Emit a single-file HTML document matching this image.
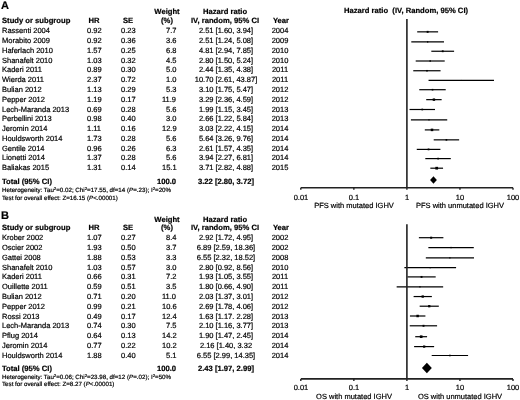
<!DOCTYPE html>
<html><head><meta charset="utf-8"><style>
html,body{margin:0;padding:0;background:#fff;}
body{width:520px;height:400px;position:relative;overflow:hidden;font-family:"Liberation Sans",sans-serif;color:#000;}
.t{position:absolute;white-space:nowrap;will-change:transform;-webkit-text-stroke:0.2px #000;text-rendering:geometricPrecision;}
sup{font-size:70%;line-height:0;vertical-align:0.45em;}
svg{position:absolute;left:0;top:0;}
</style></head><body>
<svg width="520" height="400" viewBox="0 0 520 400">
<line x1="417.20" y1="31.85" x2="438.10" y2="31.85" stroke="#000" stroke-width="1.2"/>
<rect x="426.67" y="30.88" width="1.94" height="1.94" fill="#000"/>
<line x1="411.29" y1="41.90" x2="443.99" y2="41.90" stroke="#000" stroke-width="1.2"/>
<rect x="426.98" y="41.24" width="1.33" height="1.33" fill="#000"/>
<line x1="431.31" y1="51.25" x2="454.09" y2="51.25" stroke="#000" stroke-width="1.2"/>
<rect x="441.81" y="50.34" width="1.83" height="1.83" fill="#000"/>
<line x1="415.70" y1="61.00" x2="444.71" y2="61.00" stroke="#000" stroke-width="1.2"/>
<rect x="429.44" y="60.26" width="1.48" height="1.48" fill="#000"/>
<line x1="413.26" y1="70.75" x2="440.55" y2="70.75" stroke="#000" stroke-width="1.2"/>
<rect x="426.20" y="69.97" width="1.57" height="1.57" fill="#000"/>
<line x1="428.55" y1="80.45" x2="493.99" y2="80.45" stroke="#000" stroke-width="1.2"/>
<rect x="460.77" y="79.95" width="1.00" height="1.00" fill="#000"/>
<line x1="419.28" y1="89.70" x2="445.71" y2="89.70" stroke="#000" stroke-width="1.2"/>
<rect x="431.73" y="88.89" width="1.61" height="1.61" fill="#000"/>
<line x1="426.21" y1="99.65" x2="441.64" y2="99.65" stroke="#000" stroke-width="1.2"/>
<rect x="432.71" y="98.44" width="2.41" height="2.41" fill="#000"/>
<line x1="409.54" y1="109.50" x2="435.02" y2="109.50" stroke="#000" stroke-width="1.2"/>
<rect x="421.43" y="108.67" width="1.66" height="1.66" fill="#000"/>
<line x1="410.91" y1="119.85" x2="447.23" y2="119.85" stroke="#000" stroke-width="1.2"/>
<rect x="428.38" y="119.24" width="1.21" height="1.21" fill="#000"/>
<line x1="424.80" y1="129.90" x2="439.30" y2="129.90" stroke="#000" stroke-width="1.2"/>
<rect x="430.75" y="128.64" width="2.51" height="2.51" fill="#000"/>
<line x1="433.71" y1="139.85" x2="459.14" y2="139.85" stroke="#000" stroke-width="1.2"/>
<rect x="445.59" y="139.02" width="1.66" height="1.66" fill="#000"/>
<line x1="416.76" y1="149.40" x2="440.40" y2="149.40" stroke="#000" stroke-width="1.2"/>
<rect x="427.67" y="148.52" width="1.76" height="1.76" fill="#000"/>
<line x1="425.31" y1="158.60" x2="450.79" y2="158.60" stroke="#000" stroke-width="1.2"/>
<rect x="437.27" y="157.77" width="1.66" height="1.66" fill="#000"/>
<line x1="430.34" y1="168.20" x2="443.06" y2="168.20" stroke="#000" stroke-width="1.2"/>
<rect x="435.34" y="166.84" width="2.72" height="2.72" fill="#000"/>
<line x1="406.9" y1="19.0" x2="406.9" y2="187.75" stroke="#222" stroke-width="1.6"/>
<line x1="300.80" y1="187.75" x2="513.00" y2="187.75" stroke="#222" stroke-width="1.6"/>
<line x1="300.80" y1="187.75" x2="300.80" y2="189.75" stroke="#222" stroke-width="1.4"/>
<line x1="353.85" y1="187.75" x2="353.85" y2="189.75" stroke="#222" stroke-width="1.4"/>
<line x1="406.90" y1="187.75" x2="406.90" y2="189.75" stroke="#222" stroke-width="1.4"/>
<line x1="459.95" y1="187.75" x2="459.95" y2="189.75" stroke="#222" stroke-width="1.4"/>
<line x1="513.00" y1="187.75" x2="513.00" y2="189.75" stroke="#222" stroke-width="1.4"/>
<polygon points="430.08,180.00 433.47,176.31 436.87,180.00 433.47,183.69" fill="#000"/>
<line x1="418.88" y1="237.70" x2="443.39" y2="237.70" stroke="#000" stroke-width="1.2"/>
<rect x="430.14" y="236.69" width="2.03" height="2.03" fill="#000"/>
<line x1="428.37" y1="247.55" x2="473.79" y2="247.55" stroke="#000" stroke-width="1.2"/>
<rect x="450.39" y="246.88" width="1.35" height="1.35" fill="#000"/>
<line x1="425.82" y1="257.85" x2="473.99" y2="257.85" stroke="#000" stroke-width="1.2"/>
<rect x="449.25" y="257.21" width="1.27" height="1.27" fill="#000"/>
<line x1="404.37" y1="267.70" x2="456.09" y2="267.70" stroke="#000" stroke-width="1.2"/>
<rect x="429.57" y="267.09" width="1.21" height="1.21" fill="#000"/>
<line x1="407.43" y1="276.90" x2="435.68" y2="276.90" stroke="#000" stroke-width="1.2"/>
<rect x="420.61" y="275.96" width="1.88" height="1.88" fill="#000"/>
<line x1="396.66" y1="286.80" x2="443.16" y2="286.80" stroke="#000" stroke-width="1.2"/>
<rect x="419.28" y="286.15" width="1.31" height="1.31" fill="#000"/>
<line x1="413.60" y1="296.55" x2="431.86" y2="296.55" stroke="#000" stroke-width="1.2"/>
<rect x="421.56" y="295.39" width="2.32" height="2.32" fill="#000"/>
<line x1="419.67" y1="306.20" x2="438.80" y2="306.20" stroke="#000" stroke-width="1.2"/>
<rect x="428.11" y="305.06" width="2.28" height="2.28" fill="#000"/>
<line x1="409.94" y1="316.00" x2="425.41" y2="316.00" stroke="#000" stroke-width="1.2"/>
<rect x="416.40" y="314.77" width="2.46" height="2.46" fill="#000"/>
<line x1="409.74" y1="325.80" x2="437.08" y2="325.80" stroke="#000" stroke-width="1.2"/>
<rect x="422.55" y="324.84" width="1.92" height="1.92" fill="#000"/>
<line x1="415.23" y1="336.70" x2="427.08" y2="336.70" stroke="#000" stroke-width="1.2"/>
<rect x="419.87" y="335.38" width="2.64" height="2.64" fill="#000"/>
<line x1="414.10" y1="346.60" x2="434.13" y2="346.60" stroke="#000" stroke-width="1.2"/>
<rect x="423.04" y="345.48" width="2.24" height="2.24" fill="#000"/>
<line x1="431.70" y1="355.50" x2="468.08" y2="355.50" stroke="#000" stroke-width="1.2"/>
<rect x="449.10" y="354.71" width="1.58" height="1.58" fill="#000"/>
<line x1="406.9" y1="224.3" x2="406.9" y2="378.9" stroke="#222" stroke-width="1.6"/>
<line x1="300.80" y1="378.9" x2="513.00" y2="378.9" stroke="#222" stroke-width="1.6"/>
<line x1="300.80" y1="378.9" x2="300.80" y2="380.9" stroke="#222" stroke-width="1.4"/>
<line x1="353.85" y1="378.9" x2="353.85" y2="380.9" stroke="#222" stroke-width="1.4"/>
<line x1="406.90" y1="378.9" x2="406.90" y2="380.9" stroke="#222" stroke-width="1.4"/>
<line x1="459.95" y1="378.9" x2="459.95" y2="380.9" stroke="#222" stroke-width="1.4"/>
<line x1="513.00" y1="378.9" x2="513.00" y2="380.9" stroke="#222" stroke-width="1.4"/>
<polygon points="421.92,367.90 426.86,362.66 431.80,367.90 426.86,373.14" fill="#000"/>
</svg>
<div class="t" style="top:1px;font-size:11px;line-height:11px;font-weight:bold;left:0.80px;">A</div>
<div class="t" style="top:8px;font-size:7.65px;line-height:7.65px;font-weight:bold;left:16.60px;width:300px;text-align:center;">Weight</div>
<div class="t" style="top:8px;font-size:7.65px;line-height:7.65px;font-weight:bold;left:75.40px;width:300px;text-align:center;">Hazard ratio</div>
<div class="t" style="top:17px;font-size:7.65px;line-height:7.65px;font-weight:bold;left:1.50px;">Study or subgroup</div>
<div class="t" style="top:17px;font-size:7.65px;line-height:7.65px;font-weight:bold;left:-55.80px;width:300px;text-align:center;">HR</div>
<div class="t" style="top:17px;font-size:7.65px;line-height:7.65px;font-weight:bold;left:-21.70px;width:300px;text-align:center;">SE</div>
<div class="t" style="top:17px;font-size:7.65px;line-height:7.65px;font-weight:bold;left:16.90px;width:300px;text-align:center;">(%)</div>
<div class="t" style="top:17px;font-size:7.65px;line-height:7.65px;font-weight:bold;left:75.40px;width:300px;text-align:center;">IV, random, 95% CI</div>
<div class="t" style="top:17px;font-size:7.65px;line-height:7.65px;font-weight:bold;left:130.80px;width:300px;text-align:center;">Year</div>
<div class="t" style="top:27px;font-size:7.5px;line-height:7.5px;left:1.50px;">Rassenti 2004</div>
<div class="t" style="top:27px;font-size:7.5px;line-height:7.5px;right:418.60px;text-align:right;">0.92</div>
<div class="t" style="top:27px;font-size:7.5px;line-height:7.5px;right:384.00px;text-align:right;">0.23</div>
<div class="t" style="top:27px;font-size:7.5px;line-height:7.5px;right:343.80px;text-align:right;">7.7</div>
<div class="t" style="top:27px;font-size:7.5px;line-height:7.5px;left:75.50px;width:300px;text-align:center;">2.51 [1.60, 3.94]</div>
<div class="t" style="top:27px;font-size:7.5px;line-height:7.5px;left:129.60px;width:300px;text-align:center;">2004</div>
<div class="t" style="top:37px;font-size:7.5px;line-height:7.5px;left:1.50px;">Morabito 2009</div>
<div class="t" style="top:37px;font-size:7.5px;line-height:7.5px;right:418.60px;text-align:right;">0.92</div>
<div class="t" style="top:37px;font-size:7.5px;line-height:7.5px;right:384.00px;text-align:right;">0.36</div>
<div class="t" style="top:37px;font-size:7.5px;line-height:7.5px;right:343.80px;text-align:right;">3.6</div>
<div class="t" style="top:37px;font-size:7.5px;line-height:7.5px;left:75.50px;width:300px;text-align:center;">2.51 [1.24, 5.08]</div>
<div class="t" style="top:37px;font-size:7.5px;line-height:7.5px;left:129.60px;width:300px;text-align:center;">2009</div>
<div class="t" style="top:47px;font-size:7.5px;line-height:7.5px;left:1.50px;">Haferlach 2010</div>
<div class="t" style="top:47px;font-size:7.5px;line-height:7.5px;right:418.60px;text-align:right;">1.57</div>
<div class="t" style="top:47px;font-size:7.5px;line-height:7.5px;right:384.00px;text-align:right;">0.25</div>
<div class="t" style="top:47px;font-size:7.5px;line-height:7.5px;right:343.80px;text-align:right;">6.8</div>
<div class="t" style="top:47px;font-size:7.5px;line-height:7.5px;left:75.50px;width:300px;text-align:center;">4.81 [2.94, 7.85]</div>
<div class="t" style="top:47px;font-size:7.5px;line-height:7.5px;left:129.60px;width:300px;text-align:center;">2010</div>
<div class="t" style="top:57px;font-size:7.5px;line-height:7.5px;left:1.50px;">Shanafelt 2010</div>
<div class="t" style="top:57px;font-size:7.5px;line-height:7.5px;right:418.60px;text-align:right;">1.03</div>
<div class="t" style="top:57px;font-size:7.5px;line-height:7.5px;right:384.00px;text-align:right;">0.32</div>
<div class="t" style="top:57px;font-size:7.5px;line-height:7.5px;right:343.80px;text-align:right;">4.5</div>
<div class="t" style="top:57px;font-size:7.5px;line-height:7.5px;left:75.50px;width:300px;text-align:center;">2.80 [1.50, 5.24]</div>
<div class="t" style="top:57px;font-size:7.5px;line-height:7.5px;left:129.60px;width:300px;text-align:center;">2010</div>
<div class="t" style="top:66px;font-size:7.5px;line-height:7.5px;left:1.50px;">Kaderi 2011</div>
<div class="t" style="top:66px;font-size:7.5px;line-height:7.5px;right:418.60px;text-align:right;">0.89</div>
<div class="t" style="top:66px;font-size:7.5px;line-height:7.5px;right:384.00px;text-align:right;">0.30</div>
<div class="t" style="top:66px;font-size:7.5px;line-height:7.5px;right:343.80px;text-align:right;">5.0</div>
<div class="t" style="top:66px;font-size:7.5px;line-height:7.5px;left:75.50px;width:300px;text-align:center;">2.44 [1.35, 4.38]</div>
<div class="t" style="top:66px;font-size:7.5px;line-height:7.5px;left:129.60px;width:300px;text-align:center;">2011</div>
<div class="t" style="top:76px;font-size:7.5px;line-height:7.5px;left:1.50px;">Wierda 2011</div>
<div class="t" style="top:76px;font-size:7.5px;line-height:7.5px;right:418.60px;text-align:right;">2.37</div>
<div class="t" style="top:76px;font-size:7.5px;line-height:7.5px;right:384.00px;text-align:right;">0.72</div>
<div class="t" style="top:76px;font-size:7.5px;line-height:7.5px;right:343.80px;text-align:right;">1.0</div>
<div class="t" style="top:76px;font-size:7.5px;line-height:7.5px;left:75.50px;width:300px;text-align:center;">10.70 [2.61, 43.87]</div>
<div class="t" style="top:76px;font-size:7.5px;line-height:7.5px;left:129.60px;width:300px;text-align:center;">2011</div>
<div class="t" style="top:86px;font-size:7.5px;line-height:7.5px;left:1.50px;">Bulian 2012</div>
<div class="t" style="top:86px;font-size:7.5px;line-height:7.5px;right:418.60px;text-align:right;">1.13</div>
<div class="t" style="top:86px;font-size:7.5px;line-height:7.5px;right:384.00px;text-align:right;">0.29</div>
<div class="t" style="top:86px;font-size:7.5px;line-height:7.5px;right:343.80px;text-align:right;">5.3</div>
<div class="t" style="top:86px;font-size:7.5px;line-height:7.5px;left:75.50px;width:300px;text-align:center;">3.10 [1.75, 5.47]</div>
<div class="t" style="top:86px;font-size:7.5px;line-height:7.5px;left:129.60px;width:300px;text-align:center;">2012</div>
<div class="t" style="top:96px;font-size:7.5px;line-height:7.5px;left:1.50px;">Pepper 2012</div>
<div class="t" style="top:96px;font-size:7.5px;line-height:7.5px;right:418.60px;text-align:right;">1.19</div>
<div class="t" style="top:96px;font-size:7.5px;line-height:7.5px;right:384.00px;text-align:right;">0.17</div>
<div class="t" style="top:96px;font-size:7.5px;line-height:7.5px;right:343.80px;text-align:right;">11.9</div>
<div class="t" style="top:96px;font-size:7.5px;line-height:7.5px;left:75.50px;width:300px;text-align:center;">3.29 [2.36, 4.59]</div>
<div class="t" style="top:96px;font-size:7.5px;line-height:7.5px;left:129.60px;width:300px;text-align:center;">2012</div>
<div class="t" style="top:106px;font-size:7.5px;line-height:7.5px;left:1.50px;">Lech-Maranda 2013</div>
<div class="t" style="top:106px;font-size:7.5px;line-height:7.5px;right:418.60px;text-align:right;">0.69</div>
<div class="t" style="top:106px;font-size:7.5px;line-height:7.5px;right:384.00px;text-align:right;">0.28</div>
<div class="t" style="top:106px;font-size:7.5px;line-height:7.5px;right:343.80px;text-align:right;">5.6</div>
<div class="t" style="top:106px;font-size:7.5px;line-height:7.5px;left:75.50px;width:300px;text-align:center;">1.99 [1.15, 3.45]</div>
<div class="t" style="top:106px;font-size:7.5px;line-height:7.5px;left:129.60px;width:300px;text-align:center;">2013</div>
<div class="t" style="top:115px;font-size:7.5px;line-height:7.5px;left:1.50px;">Perbellini 2013</div>
<div class="t" style="top:115px;font-size:7.5px;line-height:7.5px;right:418.60px;text-align:right;">0.98</div>
<div class="t" style="top:115px;font-size:7.5px;line-height:7.5px;right:384.00px;text-align:right;">0.40</div>
<div class="t" style="top:115px;font-size:7.5px;line-height:7.5px;right:343.80px;text-align:right;">3.0</div>
<div class="t" style="top:115px;font-size:7.5px;line-height:7.5px;left:75.50px;width:300px;text-align:center;">2.66 [1.22, 5.84]</div>
<div class="t" style="top:115px;font-size:7.5px;line-height:7.5px;left:129.60px;width:300px;text-align:center;">2013</div>
<div class="t" style="top:125px;font-size:7.5px;line-height:7.5px;left:1.50px;">Jeromin 2014</div>
<div class="t" style="top:125px;font-size:7.5px;line-height:7.5px;right:418.60px;text-align:right;">1.11</div>
<div class="t" style="top:125px;font-size:7.5px;line-height:7.5px;right:384.00px;text-align:right;">0.16</div>
<div class="t" style="top:125px;font-size:7.5px;line-height:7.5px;right:343.80px;text-align:right;">12.9</div>
<div class="t" style="top:125px;font-size:7.5px;line-height:7.5px;left:75.50px;width:300px;text-align:center;">3.03 [2.22, 4.15]</div>
<div class="t" style="top:125px;font-size:7.5px;line-height:7.5px;left:129.60px;width:300px;text-align:center;">2014</div>
<div class="t" style="top:135px;font-size:7.5px;line-height:7.5px;left:1.50px;">Houldsworth 2014</div>
<div class="t" style="top:135px;font-size:7.5px;line-height:7.5px;right:418.60px;text-align:right;">1.73</div>
<div class="t" style="top:135px;font-size:7.5px;line-height:7.5px;right:384.00px;text-align:right;">0.28</div>
<div class="t" style="top:135px;font-size:7.5px;line-height:7.5px;right:343.80px;text-align:right;">5.6</div>
<div class="t" style="top:135px;font-size:7.5px;line-height:7.5px;left:75.50px;width:300px;text-align:center;">5.64 [3.26, 9.76]</div>
<div class="t" style="top:135px;font-size:7.5px;line-height:7.5px;left:129.60px;width:300px;text-align:center;">2014</div>
<div class="t" style="top:145px;font-size:7.5px;line-height:7.5px;left:1.50px;">Gentile 2014</div>
<div class="t" style="top:145px;font-size:7.5px;line-height:7.5px;right:418.60px;text-align:right;">0.96</div>
<div class="t" style="top:145px;font-size:7.5px;line-height:7.5px;right:384.00px;text-align:right;">0.26</div>
<div class="t" style="top:145px;font-size:7.5px;line-height:7.5px;right:343.80px;text-align:right;">6.3</div>
<div class="t" style="top:145px;font-size:7.5px;line-height:7.5px;left:75.50px;width:300px;text-align:center;">2.61 [1.57, 4.35]</div>
<div class="t" style="top:145px;font-size:7.5px;line-height:7.5px;left:129.60px;width:300px;text-align:center;">2014</div>
<div class="t" style="top:154px;font-size:7.5px;line-height:7.5px;left:1.50px;">Lionetti 2014</div>
<div class="t" style="top:154px;font-size:7.5px;line-height:7.5px;right:418.60px;text-align:right;">1.37</div>
<div class="t" style="top:154px;font-size:7.5px;line-height:7.5px;right:384.00px;text-align:right;">0.28</div>
<div class="t" style="top:154px;font-size:7.5px;line-height:7.5px;right:343.80px;text-align:right;">5.6</div>
<div class="t" style="top:154px;font-size:7.5px;line-height:7.5px;left:75.50px;width:300px;text-align:center;">3.94 [2.27, 6.81]</div>
<div class="t" style="top:154px;font-size:7.5px;line-height:7.5px;left:129.60px;width:300px;text-align:center;">2014</div>
<div class="t" style="top:164px;font-size:7.5px;line-height:7.5px;left:1.50px;">Baliakas 2015</div>
<div class="t" style="top:164px;font-size:7.5px;line-height:7.5px;right:418.60px;text-align:right;">1.31</div>
<div class="t" style="top:164px;font-size:7.5px;line-height:7.5px;right:384.00px;text-align:right;">0.14</div>
<div class="t" style="top:164px;font-size:7.5px;line-height:7.5px;right:343.80px;text-align:right;">15.1</div>
<div class="t" style="top:164px;font-size:7.5px;line-height:7.5px;left:75.50px;width:300px;text-align:center;">3.71 [2.82, 4.88]</div>
<div class="t" style="top:164px;font-size:7.5px;line-height:7.5px;left:129.60px;width:300px;text-align:center;">2015</div>
<div class="t" style="top:178px;font-size:7.65px;line-height:7.65px;font-weight:bold;left:1.50px;">Total (95% CI)</div>
<div class="t" style="top:178px;font-size:7.65px;line-height:7.65px;font-weight:bold;right:343.80px;text-align:right;">100.0</div>
<div class="t" style="top:178px;font-size:7.65px;line-height:7.65px;font-weight:bold;left:75.50px;width:300px;text-align:center;">3.22 [2.80, 3.72]</div>
<div class="t" style="top:188px;font-size:6.2px;line-height:6.2px;left:1.50px;">Heterogeneity: Tau<sup>2</sup>=0.02; Chi<sup>2</sup>=17.55, df=14 (<i>P</i>=.23); I<sup>2</sup>=20%</div>
<div class="t" style="top:196px;font-size:6.2px;line-height:6.2px;left:1.50px;">Test for overall effect: Z=16.15 (<i>P</i>&lt;.00001)</div>
<div class="t" style="top:7px;font-size:7.65px;line-height:7.65px;font-weight:bold;left:255.90px;width:300px;text-align:center;">Hazard ratio&nbsp; (IV, Random, 95% CI)</div>
<div class="t" style="top:194px;font-size:7.5px;line-height:7.5px;left:150.80px;width:300px;text-align:center;">0.01</div>
<div class="t" style="top:194px;font-size:7.5px;line-height:7.5px;left:203.85px;width:300px;text-align:center;">0.1</div>
<div class="t" style="top:194px;font-size:7.5px;line-height:7.5px;left:256.90px;width:300px;text-align:center;">1</div>
<div class="t" style="top:194px;font-size:7.5px;line-height:7.5px;left:309.95px;width:300px;text-align:center;">10</div>
<div class="t" style="top:194px;font-size:7.5px;line-height:7.5px;left:363.00px;width:300px;text-align:center;">100</div>
<div class="t" style="top:202px;font-size:7.5px;line-height:7.5px;left:204.00px;width:300px;text-align:center;">PFS with mutated IGHV</div>
<div class="t" style="top:202px;font-size:7.5px;line-height:7.5px;left:309.50px;width:300px;text-align:center;">PFS with unmutated IGHV</div>
<div class="t" style="top:211px;font-size:11px;line-height:11px;font-weight:bold;left:0.80px;">B</div>
<div class="t" style="top:216px;font-size:7.65px;line-height:7.65px;font-weight:bold;left:16.60px;width:300px;text-align:center;">Weight</div>
<div class="t" style="top:216px;font-size:7.65px;line-height:7.65px;font-weight:bold;left:75.40px;width:300px;text-align:center;">Hazard ratio</div>
<div class="t" style="top:224px;font-size:7.65px;line-height:7.65px;font-weight:bold;left:1.50px;">Study or subgroup</div>
<div class="t" style="top:224px;font-size:7.65px;line-height:7.65px;font-weight:bold;left:-55.80px;width:300px;text-align:center;">HR</div>
<div class="t" style="top:224px;font-size:7.65px;line-height:7.65px;font-weight:bold;left:-21.70px;width:300px;text-align:center;">SE</div>
<div class="t" style="top:224px;font-size:7.65px;line-height:7.65px;font-weight:bold;left:16.90px;width:300px;text-align:center;">(%)</div>
<div class="t" style="top:224px;font-size:7.65px;line-height:7.65px;font-weight:bold;left:75.40px;width:300px;text-align:center;">IV, random, 95% CI</div>
<div class="t" style="top:224px;font-size:7.65px;line-height:7.65px;font-weight:bold;left:130.80px;width:300px;text-align:center;">Year</div>
<div class="t" style="top:234px;font-size:7.5px;line-height:7.5px;left:1.50px;">Krober 2002</div>
<div class="t" style="top:234px;font-size:7.5px;line-height:7.5px;right:418.60px;text-align:right;">1.07</div>
<div class="t" style="top:234px;font-size:7.5px;line-height:7.5px;right:384.00px;text-align:right;">0.27</div>
<div class="t" style="top:234px;font-size:7.5px;line-height:7.5px;right:343.80px;text-align:right;">8.4</div>
<div class="t" style="top:234px;font-size:7.5px;line-height:7.5px;left:75.50px;width:300px;text-align:center;">2.92 [1.72, 4.95]</div>
<div class="t" style="top:234px;font-size:7.5px;line-height:7.5px;left:129.60px;width:300px;text-align:center;">2002</div>
<div class="t" style="top:244px;font-size:7.5px;line-height:7.5px;left:1.50px;">Oscier 2002</div>
<div class="t" style="top:244px;font-size:7.5px;line-height:7.5px;right:418.60px;text-align:right;">1.93</div>
<div class="t" style="top:244px;font-size:7.5px;line-height:7.5px;right:384.00px;text-align:right;">0.50</div>
<div class="t" style="top:244px;font-size:7.5px;line-height:7.5px;right:343.80px;text-align:right;">3.7</div>
<div class="t" style="top:244px;font-size:7.5px;line-height:7.5px;left:75.50px;width:300px;text-align:center;">6.89 [2.59, 18.36]</div>
<div class="t" style="top:244px;font-size:7.5px;line-height:7.5px;left:129.60px;width:300px;text-align:center;">2002</div>
<div class="t" style="top:254px;font-size:7.5px;line-height:7.5px;left:1.50px;">Gattei 2008</div>
<div class="t" style="top:254px;font-size:7.5px;line-height:7.5px;right:418.60px;text-align:right;">1.88</div>
<div class="t" style="top:254px;font-size:7.5px;line-height:7.5px;right:384.00px;text-align:right;">0.53</div>
<div class="t" style="top:254px;font-size:7.5px;line-height:7.5px;right:343.80px;text-align:right;">3.3</div>
<div class="t" style="top:254px;font-size:7.5px;line-height:7.5px;left:75.50px;width:300px;text-align:center;">6.55 [2.32, 18.52]</div>
<div class="t" style="top:254px;font-size:7.5px;line-height:7.5px;left:129.60px;width:300px;text-align:center;">2008</div>
<div class="t" style="top:264px;font-size:7.5px;line-height:7.5px;left:1.50px;">Shanafelt 2010</div>
<div class="t" style="top:264px;font-size:7.5px;line-height:7.5px;right:418.60px;text-align:right;">1.03</div>
<div class="t" style="top:264px;font-size:7.5px;line-height:7.5px;right:384.00px;text-align:right;">0.57</div>
<div class="t" style="top:264px;font-size:7.5px;line-height:7.5px;right:343.80px;text-align:right;">3.0</div>
<div class="t" style="top:264px;font-size:7.5px;line-height:7.5px;left:75.50px;width:300px;text-align:center;">2.80 [0.92, 8.56]</div>
<div class="t" style="top:264px;font-size:7.5px;line-height:7.5px;left:129.60px;width:300px;text-align:center;">2010</div>
<div class="t" style="top:273px;font-size:7.5px;line-height:7.5px;left:1.50px;">Kaderi 2011</div>
<div class="t" style="top:273px;font-size:7.5px;line-height:7.5px;right:418.60px;text-align:right;">0.66</div>
<div class="t" style="top:273px;font-size:7.5px;line-height:7.5px;right:384.00px;text-align:right;">0.31</div>
<div class="t" style="top:273px;font-size:7.5px;line-height:7.5px;right:343.80px;text-align:right;">7.2</div>
<div class="t" style="top:273px;font-size:7.5px;line-height:7.5px;left:75.50px;width:300px;text-align:center;">1.93 [1.05, 3.55]</div>
<div class="t" style="top:273px;font-size:7.5px;line-height:7.5px;left:129.60px;width:300px;text-align:center;">2011</div>
<div class="t" style="top:283px;font-size:7.5px;line-height:7.5px;left:1.50px;">Ouillette 2011</div>
<div class="t" style="top:283px;font-size:7.5px;line-height:7.5px;right:418.60px;text-align:right;">0.59</div>
<div class="t" style="top:283px;font-size:7.5px;line-height:7.5px;right:384.00px;text-align:right;">0.51</div>
<div class="t" style="top:283px;font-size:7.5px;line-height:7.5px;right:343.80px;text-align:right;">3.5</div>
<div class="t" style="top:283px;font-size:7.5px;line-height:7.5px;left:75.50px;width:300px;text-align:center;">1.80 [0.66, 4.90]</div>
<div class="t" style="top:283px;font-size:7.5px;line-height:7.5px;left:129.60px;width:300px;text-align:center;">2011</div>
<div class="t" style="top:293px;font-size:7.5px;line-height:7.5px;left:1.50px;">Bulian 2012</div>
<div class="t" style="top:293px;font-size:7.5px;line-height:7.5px;right:418.60px;text-align:right;">0.71</div>
<div class="t" style="top:293px;font-size:7.5px;line-height:7.5px;right:384.00px;text-align:right;">0.20</div>
<div class="t" style="top:293px;font-size:7.5px;line-height:7.5px;right:343.80px;text-align:right;">11.0</div>
<div class="t" style="top:293px;font-size:7.5px;line-height:7.5px;left:75.50px;width:300px;text-align:center;">2.03 [1.37, 3.01]</div>
<div class="t" style="top:293px;font-size:7.5px;line-height:7.5px;left:129.60px;width:300px;text-align:center;">2012</div>
<div class="t" style="top:303px;font-size:7.5px;line-height:7.5px;left:1.50px;">Pepper 2012</div>
<div class="t" style="top:303px;font-size:7.5px;line-height:7.5px;right:418.60px;text-align:right;">0.99</div>
<div class="t" style="top:303px;font-size:7.5px;line-height:7.5px;right:384.00px;text-align:right;">0.21</div>
<div class="t" style="top:303px;font-size:7.5px;line-height:7.5px;right:343.80px;text-align:right;">10.6</div>
<div class="t" style="top:303px;font-size:7.5px;line-height:7.5px;left:75.50px;width:300px;text-align:center;">2.69 [1.78, 4.06]</div>
<div class="t" style="top:303px;font-size:7.5px;line-height:7.5px;left:129.60px;width:300px;text-align:center;">2012</div>
<div class="t" style="top:313px;font-size:7.5px;line-height:7.5px;left:1.50px;">Rossi 2013</div>
<div class="t" style="top:313px;font-size:7.5px;line-height:7.5px;right:418.60px;text-align:right;">0.49</div>
<div class="t" style="top:313px;font-size:7.5px;line-height:7.5px;right:384.00px;text-align:right;">0.17</div>
<div class="t" style="top:313px;font-size:7.5px;line-height:7.5px;right:343.80px;text-align:right;">12.4</div>
<div class="t" style="top:313px;font-size:7.5px;line-height:7.5px;left:75.50px;width:300px;text-align:center;">1.63 [1.17. 2.28]</div>
<div class="t" style="top:313px;font-size:7.5px;line-height:7.5px;left:129.60px;width:300px;text-align:center;">2013</div>
<div class="t" style="top:322px;font-size:7.5px;line-height:7.5px;left:1.50px;">Lech-Maranda 2013</div>
<div class="t" style="top:322px;font-size:7.5px;line-height:7.5px;right:418.60px;text-align:right;">0.74</div>
<div class="t" style="top:322px;font-size:7.5px;line-height:7.5px;right:384.00px;text-align:right;">0.30</div>
<div class="t" style="top:322px;font-size:7.5px;line-height:7.5px;right:343.80px;text-align:right;">7.5</div>
<div class="t" style="top:322px;font-size:7.5px;line-height:7.5px;left:75.50px;width:300px;text-align:center;">2.10 [1.16, 3.77]</div>
<div class="t" style="top:322px;font-size:7.5px;line-height:7.5px;left:129.60px;width:300px;text-align:center;">2013</div>
<div class="t" style="top:332px;font-size:7.5px;line-height:7.5px;left:1.50px;">Pflug 2014</div>
<div class="t" style="top:332px;font-size:7.5px;line-height:7.5px;right:418.60px;text-align:right;">0.64</div>
<div class="t" style="top:332px;font-size:7.5px;line-height:7.5px;right:384.00px;text-align:right;">0.13</div>
<div class="t" style="top:332px;font-size:7.5px;line-height:7.5px;right:343.80px;text-align:right;">14.2</div>
<div class="t" style="top:332px;font-size:7.5px;line-height:7.5px;left:75.50px;width:300px;text-align:center;">1.90 [1.47, 2.45]</div>
<div class="t" style="top:332px;font-size:7.5px;line-height:7.5px;left:129.60px;width:300px;text-align:center;">2014</div>
<div class="t" style="top:342px;font-size:7.5px;line-height:7.5px;left:1.50px;">Jeromin 2014</div>
<div class="t" style="top:342px;font-size:7.5px;line-height:7.5px;right:418.60px;text-align:right;">0.77</div>
<div class="t" style="top:342px;font-size:7.5px;line-height:7.5px;right:384.00px;text-align:right;">0.22</div>
<div class="t" style="top:342px;font-size:7.5px;line-height:7.5px;right:343.80px;text-align:right;">10.2</div>
<div class="t" style="top:342px;font-size:7.5px;line-height:7.5px;left:75.50px;width:300px;text-align:center;">2.16 [1.40, 3.32</div>
<div class="t" style="top:342px;font-size:7.5px;line-height:7.5px;left:129.60px;width:300px;text-align:center;">2014</div>
<div class="t" style="top:352px;font-size:7.5px;line-height:7.5px;left:1.50px;">Houldsworth 2014</div>
<div class="t" style="top:352px;font-size:7.5px;line-height:7.5px;right:418.60px;text-align:right;">1.88</div>
<div class="t" style="top:352px;font-size:7.5px;line-height:7.5px;right:384.00px;text-align:right;">0.40</div>
<div class="t" style="top:352px;font-size:7.5px;line-height:7.5px;right:343.80px;text-align:right;">5.1</div>
<div class="t" style="top:352px;font-size:7.5px;line-height:7.5px;left:75.50px;width:300px;text-align:center;">6.55 [2.99, 14.35]</div>
<div class="t" style="top:352px;font-size:7.5px;line-height:7.5px;left:129.60px;width:300px;text-align:center;">2014</div>
<div class="t" style="top:365px;font-size:7.65px;line-height:7.65px;font-weight:bold;left:1.50px;">Total (95% CI)</div>
<div class="t" style="top:365px;font-size:7.65px;line-height:7.65px;font-weight:bold;right:343.80px;text-align:right;">100.0</div>
<div class="t" style="top:365px;font-size:7.65px;line-height:7.65px;font-weight:bold;left:75.50px;width:300px;text-align:center;">2.43 [1.97, 2.99]</div>
<div class="t" style="top:375px;font-size:6.2px;line-height:6.2px;left:1.50px;">Heterogeneity: Tau<sup>2</sup>=0.06; Chi<sup>2</sup>=23.98, df=12 (<i>P</i>=.02); I<sup>2</sup>=50%</div>
<div class="t" style="top:382px;font-size:6.2px;line-height:6.2px;left:1.50px;">Test for overall effect: Z=8.27 (<i>P</i>&lt;.00001)</div>
<div class="t" style="top:384px;font-size:7.5px;line-height:7.5px;left:150.80px;width:300px;text-align:center;">0.01</div>
<div class="t" style="top:384px;font-size:7.5px;line-height:7.5px;left:203.85px;width:300px;text-align:center;">0.1</div>
<div class="t" style="top:384px;font-size:7.5px;line-height:7.5px;left:256.90px;width:300px;text-align:center;">1</div>
<div class="t" style="top:384px;font-size:7.5px;line-height:7.5px;left:309.95px;width:300px;text-align:center;">10</div>
<div class="t" style="top:384px;font-size:7.5px;line-height:7.5px;left:363.00px;width:300px;text-align:center;">100</div>
<div class="t" style="top:393px;font-size:7.5px;line-height:7.5px;left:204.00px;width:300px;text-align:center;">OS with mutated IGHV</div>
<div class="t" style="top:393px;font-size:7.5px;line-height:7.5px;left:309.50px;width:300px;text-align:center;">OS with unmutated IGHV</div>
</body></html>
